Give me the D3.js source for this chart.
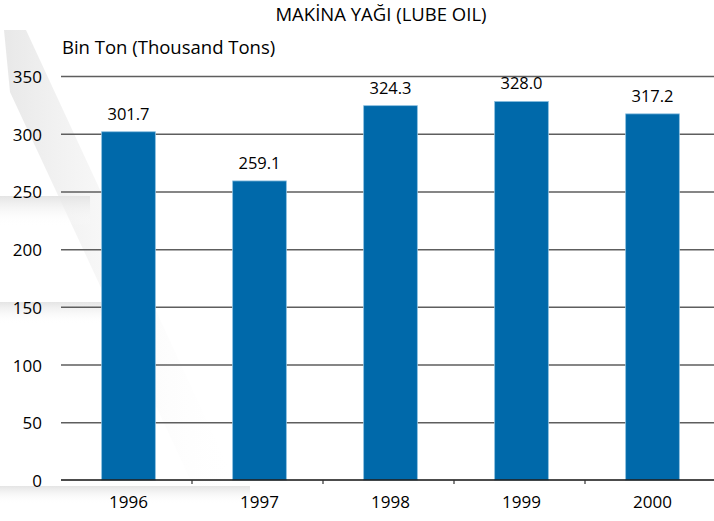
<!DOCTYPE html>
<html lang="tr">
<head>
<meta charset="utf-8">
<title>Makina Yağı</title>
<script src="https://d3js.org/d3.v7.min.js"></script>
<style>
  body { margin: 0; background: #fff; }
  svg { display: block; font-family: "Open Sans", "DejaVu Sans", sans-serif; }
  .grid line { stroke: #5e5e5e; stroke-width: 1.5; }
  .grid .domain { display: none; }
  .label { fill: #000; }
</style>
</head>
<body>
<script>
var years = ["1996", "1997", "1998", "1999", "2000"];
var values = [301.7, 259.1, 324.3, 328.0, 317.2];
var yTicks = [0, 50, 100, 150, 200, 250, 300, 350];
var title = "MAKİNA YAĞI (LUBE OIL)";
var unitLabel = "Bin Ton (Thousand Tons)";

var width = 714, height = 521;
var plotLeft = 61, plotRight = 716, plotTop = 76, plotBottom = 480;

var svg = d3.select("body").append("svg")
    .attr("width", width)
    .attr("height", height);

var defs = svg.append("defs");
function grad(id, x2, y2, c) {
  var g = defs.append("linearGradient").attr("id", id)
      .attr("x1", 0).attr("y1", 0).attr("x2", x2).attr("y2", y2);
  g.append("stop").attr("offset", "0%").attr("stop-color", c);
  g.append("stop").attr("offset", "100%").attr("stop-color", "#ffffff").attr("stop-opacity", 0);
}
grad("gDiag", 1, 0, "#e8e8e8");
grad("gDown", 0, 1, "#e4e4e4");

// faint watermark shape in the background
var bg = svg.append("g");
bg.append("polygon").attr("points", "4,30 26,30 240,492 196,492 10,92").attr("fill", "url(#gDiag)");
bg.append("rect").attr("x", 0).attr("y", 196).attr("width", 90).attr("height", 30).attr("fill", "url(#gDown)");
bg.append("rect").attr("x", 0).attr("y", 302).attr("width", 110).attr("height", 22).attr("fill", "url(#gDown)");
bg.append("rect").attr("x", 0).attr("y", 486).attr("width", 250).attr("height", 18).attr("fill", "url(#gDown)");

var x = d3.scaleBand()
    .domain(years)
    .range([plotLeft, plotRight])
    .padding(0);

var y = d3.scaleLinear()
    .domain([0, 350])
    .range([plotBottom, plotTop]);

// grid lines
svg.append("g")
    .attr("class", "grid")
    .attr("transform", "translate(" + plotLeft + ",0)")
    .call(d3.axisLeft(y).tickValues(yTicks.slice(1)).tickSize(-(width - plotLeft)).tickFormat(""));

// y labels
svg.append("g").selectAll("text")
    .data(yTicks)
  .enter().append("text")
    .attr("class", "label")
    .attr("x", 42)
    .attr("y", function(d) { return y(d) + 7; })
    .attr("text-anchor", "end")
    .style("font-size", "17px")
    .text(function(d) { return d; });

var bw = x.bandwidth() * 0.41;

svg.append("g").selectAll("rect")
    .data(values)
  .enter().append("rect")
    .attr("x", function(d, i) { return x(years[i]) + x.bandwidth() / 2 - bw / 2 + 2; })
    .attr("y", function(d) { return y(d); })
    .attr("width", bw)
    .attr("height", function(d) { return plotBottom - y(d); })
    .attr("fill", "#0069aa")
    .attr("stroke", "#8cc0e0")
    .attr("stroke-width", 0.8);

svg.append("g").selectAll("text")
    .data(values)
  .enter().append("text")
    .attr("class", "label")
    .attr("x", function(d, i) { return x(years[i]) + x.bandwidth() / 2 + 2; })
    .attr("y", function(d) { return y(d) - 12; })
    .attr("text-anchor", "middle")
    .style("font-size", "16.5px")
    .text(function(d) { return d.toFixed(1); });

// zero axis with category ticks
var xAxis = svg.append("g")
    .attr("transform", "translate(0," + plotBottom + ")");
xAxis.append("line")
    .attr("x1", plotLeft).attr("x2", width)
    .attr("stroke", "#111").attr("stroke-width", 1.4);
xAxis.selectAll(".tick")
    .data(years.slice(1))
  .enter().append("line")
    .attr("x1", function(d) { return x(d); })
    .attr("x2", function(d) { return x(d); })
    .attr("y1", 0).attr("y2", 4)
    .attr("stroke", "#333").attr("stroke-width", 1.2);
xAxis.selectAll("text")
    .data(years)
  .enter().append("text")
    .attr("class", "label")
    .attr("x", function(d) { return x(d) + x.bandwidth() / 2 + 2; })
    .attr("y", 28)
    .attr("text-anchor", "middle")
    .style("font-size", "17px")
    .text(function(d) { return d; });

svg.append("text")
    .attr("class", "label")
    .attr("x", 381).attr("y", 21)
    .attr("text-anchor", "middle")
    .style("font-size", "18.5px")
    .text(title);

svg.append("text")
    .attr("class", "label")
    .attr("x", 62).attr("y", 54)
    .style("font-size", "18.5px")
    .text(unitLabel);
</script>
</body>
</html>
